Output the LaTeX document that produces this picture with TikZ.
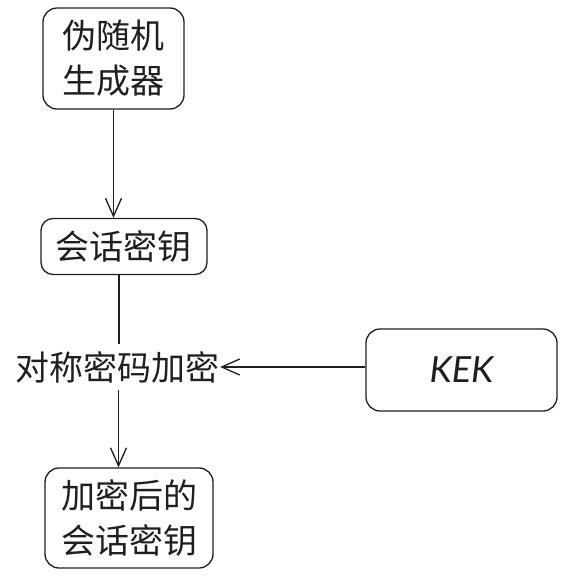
\documentclass[tikz,border=0pt]{standalone}
\usepackage{fontspec}
\setmainfont{Noto Sans CJK SC}
\newfontfamily\kekfont{Lato}
\usetikzlibrary{arrows.meta,positioning}

\begin{document}
\begin{tikzpicture}[x=1pt,y=-1pt,->,>={Straight Barb[length=18pt,width=16pt]},
  line width=1.3pt,color=black!88,
  main node/.style={rectangle,rounded corners=14pt,draw,inner sep=0pt,align=center,font=\fontsize{34}{45}\selectfont},
  label node/.style={inner sep=0pt,minimum height=44pt,font=\fontsize{34}{45}\selectfont}]
  \useasboundingbox (0,0) rectangle (566,579);

  \node[main node,minimum width=141pt,minimum height=101pt] (0) at (113.5,58.5) {伪随机\\生成器};
  \node[main node,rounded corners=12pt,minimum width=166pt,minimum height=56pt] (1) at (124,246.5) {会话密钥};
  \node[label node] (2) at (117.5,367) {对称密码加密};
  \node[main node,minimum width=168pt,minimum height=100pt] (3) at (129,518) {加密后的\\会话密钥};
  \node[main node,minimum width=191pt,minimum height=82pt,font=\kekfont\itshape\fontsize{36}{40}\selectfont] (4) at (461.5,370) {KEK};

  \path (0) edge (0.south |- 1.north)
    ([xshift=1pt]2.south) edge ([xshift=1pt]2.south |- 3.north)
    (4.west |- 2.east) edge (2.east);
  \draw[-] ([xshift=-5pt]1.south) -- ([xshift=-5pt]1.south |- 2.north);
\end{tikzpicture}
\end{document}
